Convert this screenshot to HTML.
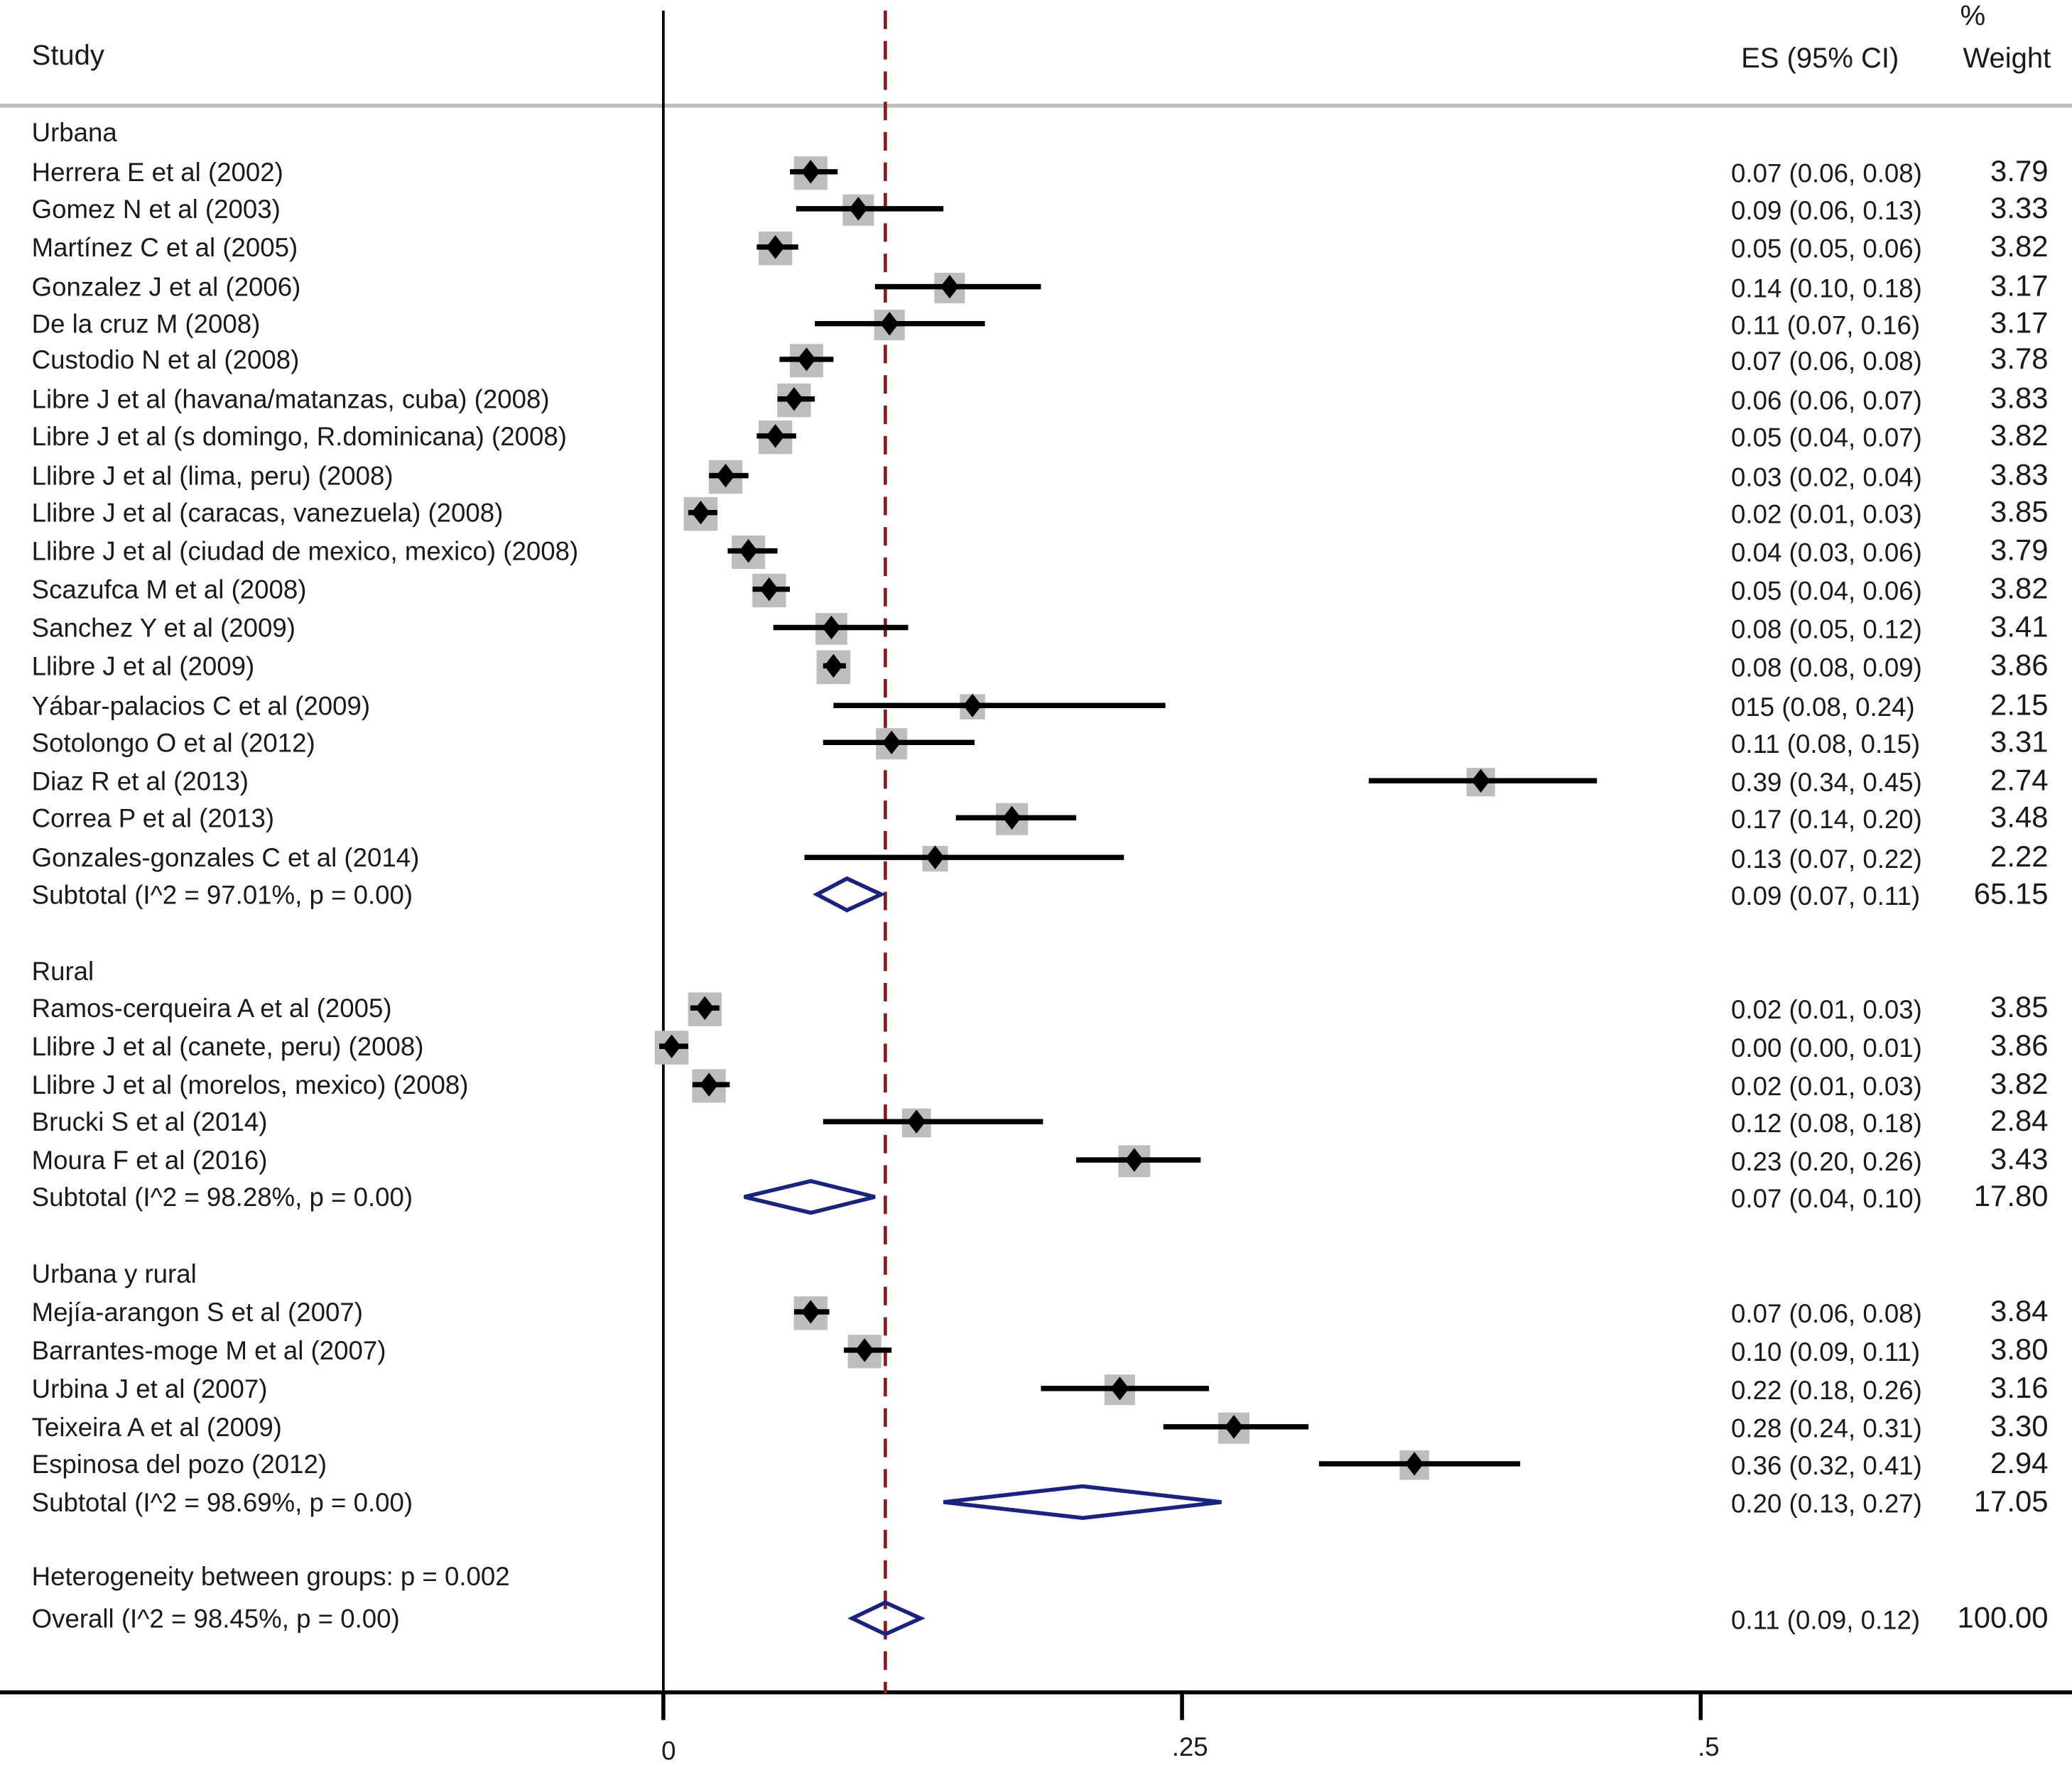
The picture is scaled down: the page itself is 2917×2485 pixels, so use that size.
<!DOCTYPE html>
<html><head><meta charset="utf-8"><style>
html,body{margin:0;padding:0;background:#fff}
svg{display:block}
text{font-family:"Liberation Sans",Arial,sans-serif;font-size:19.7px;fill:#1a1a1a}
text.big{font-size:22.5px}
text.hdr{font-size:21.5px}
</style></head><body>
<svg id="chart" width="2917" height="2485" viewBox="0 0 1568 1336" preserveAspectRatio="none" xmlns="http://www.w3.org/2000/svg">
<text x="24" y="49" class="hdr">Study</text>
<text x="1437" y="51" class="hdr" text-anchor="end">ES (95% CI)</text>
<text x="1493" y="19" class="hdr" text-anchor="middle">%</text>
<text x="1552" y="51" class="hdr" text-anchor="end">Weight</text>
<line x1="0" y1="80" x2="1568" y2="80" stroke="#bdbdbd" stroke-width="3"/>
<g id="marks"></g>
</svg>
<script>
const labels=["Urbana","Herrera E et al (2002)","Gomez N et al (2003)","Martínez C et al (2005)","Gonzalez J et al (2006)","De la cruz M (2008)","Custodio N et al (2008)","Libre J et al (havana/matanzas, cuba) (2008)","Libre J et al (s domingo, R.dominicana) (2008)","Llibre J et al (lima, peru) (2008)","Llibre J et al (caracas, vanezuela) (2008)","Llibre J et al (ciudad de mexico, mexico) (2008)","Scazufca M et al (2008)","Sanchez Y et al (2009)","Llibre J et al (2009)","Yábar-palacios C et al (2009)","Sotolongo O et al (2012)","Diaz R et al (2013)","Correa P et al (2013)","Gonzales-gonzales  C et al (2014)","Subtotal (I^2 = 97.01%, p = 0.00)","Rural","Ramos-cerqueira A et al (2005)","Llibre J et al (canete, peru) (2008)","Llibre J et al (morelos, mexico) (2008)","Brucki S et al (2014)","Moura F et al (2016)","Subtotal (I^2 = 98.28%, p = 0.00)","Urbana y rural","Mejía-arangon S et al (2007)","Barrantes-moge M et al (2007)","Urbina J et al (2007)","Teixeira A et al (2009)","Espinosa del pozo (2012)","Subtotal (I^2 = 98.69%, p = 0.00)","Heterogeneity between groups: p = 0.002","Overall (I^2 = 98.45%, p = 0.00)"];
const kinds=["h","s","s","s","s","s","s","s","s","s","s","s","s","s","s","s","s","s","s","s","d","h","s","s","s","s","s","d","h","s","s","s","s","s","d","h","d"];
const rowY=[100,130,158,187,217,245,272,302,330,360,388,417,446,475,504,534,562,591,619,649,677,735,763,792,821,849,878,906,964,993,1022,1051,1080,1108,1137,1193,1225];
const es=[null,.071,.094,.054,.138,.109,.069,.063,.054,.030,.018,.041,.051,.081,.082,.149,.110,.394,.168,.131,.0885,null,.020,.004,.022,.122,.227,.071,null,.071,.097,.220,.275,.362,.202,null,.107];
const lo=[null,.061,.064,.045,.102,.073,.056,.055,.045,.022,.012,.031,.043,.053,.077,.082,.077,.340,.141,.068,.074,null,.013,-.003,.014,.077,.199,.039,null,.063,.087,.182,.241,.316,.135,null,.091];
const hi=[null,.084,.135,.065,.182,.155,.082,.073,.064,.041,.026,.055,.061,.118,.088,.242,.150,.450,.199,.222,.105,null,.027,.012,.032,.183,.259,.102,null,.080,.110,.263,.311,.413,.269,null,.124];
const esText=[null,"0.07 (0.06, 0.08)","0.09 (0.06, 0.13)","0.05 (0.05, 0.06)","0.14 (0.10, 0.18)","0.11 (0.07, 0.16)","0.07 (0.06, 0.08)","0.06 (0.06, 0.07)","0.05 (0.04, 0.07)","0.03 (0.02, 0.04)","0.02 (0.01, 0.03)","0.04 (0.03, 0.06)","0.05 (0.04, 0.06)","0.08 (0.05, 0.12)","0.08 (0.08, 0.09)","015 (0.08, 0.24)","0.11 (0.08, 0.15)","0.39 (0.34, 0.45)","0.17 (0.14, 0.20)","0.13 (0.07, 0.22)","0.09 (0.07, 0.11)",null,"0.02 (0.01, 0.03)","0.00 (0.00, 0.01)","0.02 (0.01, 0.03)","0.12 (0.08, 0.18)","0.23 (0.20, 0.26)","0.07 (0.04, 0.10)",null,"0.07 (0.06, 0.08)","0.10 (0.09, 0.11)","0.22 (0.18, 0.26)","0.28 (0.24, 0.31)","0.36 (0.32, 0.41)","0.20 (0.13, 0.27)",null,"0.11 (0.09, 0.12)"];
const weights=[null,"3.79","3.33","3.82","3.17","3.17","3.78","3.83","3.82","3.83","3.85","3.79","3.82","3.41","3.86","2.15","3.31","2.74","3.48","2.22","65.15",null,"3.85","3.86","3.82","2.84","3.43","17.80",null,"3.84","3.80","3.16","3.30","2.94","17.05",null,"100.00"];
const overallES=0.107;
const xTicks=[0,0.25,0.5];
const xTickLabels=["0",".25",".5"];

const NS="http://www.w3.org/2000/svg";
const g=document.getElementById('marks');
const X=v=>502+v*1570;
function mk(tag,attrs,parent){const e=document.createElementNS(NS,tag);for(const k in attrs)e.setAttribute(k,attrs[k]);(parent||g).appendChild(e);return e;}

let e=mk('line',{x1:502,y1:8,x2:502,y2:1282,stroke:'#000','stroke-width':2});


e=mk('line',{x1:0,y1:1281,x2:1568,y2:1281,stroke:'#000','stroke-width':3});


xTicks.forEach((t,i)=>{
  const l=mk('line',{x1:X(t),y1:1281,x2:X(t),y2:1302,stroke:'#000','stroke-width':3});
  
  
  const tx=mk('text',{x:X(t)+(i==0?4:6),y:i==0?1332:1329,'text-anchor':'middle'});
  tx.textContent=xTickLabels[i];
  
  
});
e=mk('line',{x1:X(overallES),y1:8,x2:X(overallES),y2:1282,stroke:'#8b1a1a','stroke-width':2.5,'stroke-dasharray':'14,9'});



labels.forEach((lab,i)=>{
  const y=rowY[i];
  const t=mk('text',{x:24,y:y+7});
  t.textContent=lab;
  
  
  if(esText[i]){
    const a=mk('text',{x:1310,y:y+8});a.textContent=esText[i];
    
    
    const w=mk('text',{x:1550,y:y+7,'text-anchor':'end','class':'big'});w.textContent=weights[i];
    
    
  }
  if(kinds[i]==='s'){
    const s=Math.sqrt(parseFloat(weights[i]))*13;
    const b=mk('rect',{x:X(es[i])-s/2,y:y-s/2+1,width:s,height:s,fill:'#bdbdbd'});
    
    
    const l=mk('line',{x1:X(Math.max(lo[i],-0.002)),y1:y,x2:X(hi[i]),y2:y,stroke:'#000','stroke-width':4});
    
    
    const cx=X(es[i]);
    const p=mk('polygon',{points:`${cx-7},${y} ${cx},${y-9} ${cx+7},${y} ${cx},${y+9}`,fill:'#000'});
    
    
  } else if(kinds[i]==='d'&&es[i]!=null){
    const p=mk('polygon',{points:`${X(lo[i])},${y} ${X(es[i])},${y-12} ${X(hi[i])},${y} ${X(es[i])},${y+12}`,fill:'none',stroke:'#1a237e','stroke-width':3});
    
    
  }
});
</script>
</body></html>
